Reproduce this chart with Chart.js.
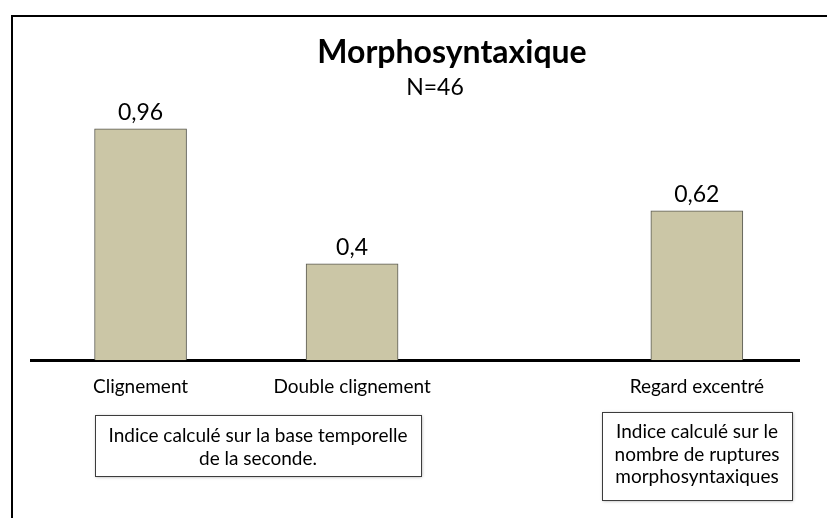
<!DOCTYPE html>
<html>
<head>
<meta charset="utf-8">
<script src="https://cdn.jsdelivr.net/npm/chart.js@4/dist/chart.umd.min.js"></script>
<style>
  html, body { margin: 0; padding: 0; background: #fff; }
  canvas { display: block; }
</style>
</head>
<body>
<canvas id="morpho" width="827" height="518"></canvas>
<script>
const categories = ['Clignement', 'Double clignement', 'Regard excentré'];
const values = [0.96, 0.4, 0.62];
// horizontal slot of each bar (the third one sits further right)
const slots = [0, 1, 2.63];

const titleText = 'Morphosyntaxique';
const subtitleText = 'N=46';
const note1 = ['Indice calculé sur la base temporelle', 'de la seconde.'];
const note2 = ['Indice calculé sur le', 'nombre de ruptures', 'morphosyntaxiques'];

const FONT = 'Lato, "Open Sans", sans-serif';

const framePlugin = {
    id: 'frame',
    beforeDraw(chart) {
        const ctx = chart.ctx;
        ctx.save();
        ctx.fillStyle = '#fff';
        ctx.fillRect(0, 0, chart.width, chart.height);
        ctx.strokeStyle = '#000';
        ctx.lineWidth = 2;
        ctx.beginPath();
        ctx.moveTo(12, chart.height);
        ctx.lineTo(12, 16);
        ctx.lineTo(chart.width, 16);
        ctx.stroke();
        // heading, set off-centre as in the original slide
        ctx.fillStyle = '#000';
        ctx.textAlign = 'center';
        ctx.textBaseline = 'alphabetic';
        ctx.font = 'bold 32px ' + FONT;
        ctx.fillText(titleText, 452, 63);
        ctx.font = '23px ' + FONT;
        ctx.fillText(subtitleText, 435, 95);
        ctx.restore();
    }
};

const valueLabels = {
    id: 'valueLabels',
    afterDatasetsDraw(chart) {
        const ctx = chart.ctx;
        const meta = chart.getDatasetMeta(0);
        ctx.save();
        ctx.font = '23px ' + FONT;
        ctx.fillStyle = '#000';
        ctx.textAlign = 'center';
        ctx.textBaseline = 'alphabetic';
        meta.data.forEach((bar, i) => {
            ctx.fillText(String(values[i]).replace('.', ','), bar.x, bar.y - 9);
        });
        ctx.restore();
    }
};

function drawNote(ctx, lines, left, top, right, bottom, firstBase, step) {
    ctx.save();
    ctx.shadowColor = 'rgba(0,0,0,0.35)';
    ctx.shadowBlur = 3;
    ctx.shadowOffsetX = 1;
    ctx.shadowOffsetY = 1;
    ctx.fillStyle = '#fff';
    ctx.fillRect(left, top, right - left, bottom - top);
    ctx.shadowColor = 'transparent';
    ctx.strokeStyle = '#3c3c3c';
    ctx.lineWidth = 1;
    ctx.strokeRect(left + 0.5, top + 0.5, right - left, bottom - top);
    ctx.fillStyle = '#000';
    ctx.font = '19px ' + FONT;
    ctx.textAlign = 'center';
    ctx.textBaseline = 'alphabetic';
    const cx = (left + right) / 2;
    lines.forEach((t, i) => ctx.fillText(t, cx, firstBase + i * step));
    ctx.restore();
}

const notesPlugin = {
    id: 'notes',
    afterDraw(chart) {
        const ctx = chart.ctx;
        drawNote(ctx, note1, 95, 415, 421, 476, 442, 22.5);
        drawNote(ctx, note2, 602, 412, 792, 500, 438, 22.5);
    }
};

new Chart(document.getElementById('morpho'), {
    type: 'bar',
    data: {
        datasets: [{
            data: values.map((v, i) => ({ x: slots[i], y: v })),
            backgroundColor: '#cbc6a6',
            borderColor: '#5a5a52',
            borderWidth: 1,
            borderSkipped: 'bottom',
            barThickness: 92
        }]
    },
    options: {
        responsive: false,
        animation: false,
        devicePixelRatio: 1,
        layout: {
            padding: { top: 101, left: 31, right: 28, bottom: 105 }
        },
        scales: {
            x: {
                type: 'linear',
                min: -0.518,
                max: 3.113,
                offset: false,
                afterBuildTicks: scale => {
                    scale.ticks = slots.map(v => ({ value: v }));
                },
                ticks: {
                    autoSkip: false,
                    maxRotation: 0,
                    padding: 15,
                    color: '#000',
                    font: { family: FONT, size: 19 },
                    callback: (val, idx) => categories[idx]
                },
                grid: { display: false, drawTicks: false },
                border: { display: true, color: '#000', width: 3 }
            },
            y: {
                display: false,
                min: 0,
                max: 1.075
            }
        },
        plugins: {
            legend: { display: false },
            tooltip: { enabled: false }
        }
    },
    plugins: [framePlugin, valueLabels, notesPlugin]
});
</script>
</body>
</html>
